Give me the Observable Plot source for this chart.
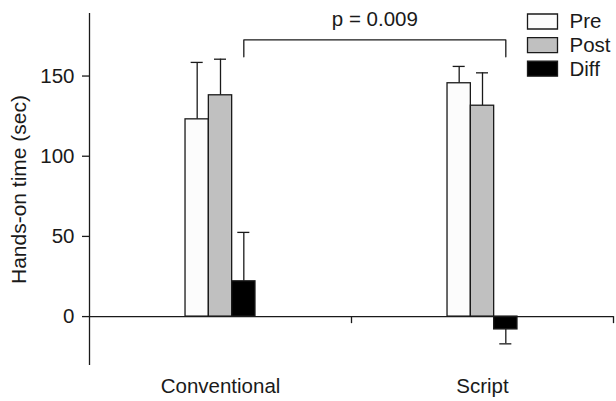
<!DOCTYPE html>
<html><head><meta charset="utf-8">
<script src="https://cdn.jsdelivr.net/npm/d3@7"></script>
<script src="https://cdn.jsdelivr.net/npm/@observablehq/plot@0.6"></script>
<style>body{margin:0;background:#fff}</style>
</head><body><div id="chart"></div>
<script>
// ---- data ----
const categories = ["Conventional", "Script"];
const seriesNames = ["Pre", "Post", "Diff"];
const preMeans = [123, 145.5];
const postMeans = [138, 131.5];
const diffMeans = [22, -8];
const preErrors = [35.5, 10.5];
const postErrors = [22.5, 20.5];
const diffErrors = [30.5, 9];
const yTicks = [0, 50, 100, 150];
const pLabel = "p = 0.009";
const yLabel = "Hands-on time (sec)";

// ---- styling / layout constants ----
const seriesColors = ["#fcfcfc", "#c0c0c0", "#000000"];
const ink = "#1a1a1a";
const lw = 1.3;
const barWidth = 0.089;   // width of one bar in category units
const capHalf = 0.023;    // half width of error caps in category units
const bracketTop = 172.5; // y of bracket, data units
const bracketLeg = 162;

const meansBySeries = [preMeans, postMeans, diffMeans];
const errsBySeries = [preErrors, postErrors, diffErrors];
const rows = [];
categories.forEach((c, i) => {
  seriesNames.forEach((s, j) => {
    const v = meansBySeries[j][i];
    const x1 = i + 0.5 + (j - 1.5) * barWidth;
    rows.push({
      category: c, series: s, value: v,
      errEnd: v + Math.sign(v) * errsBySeries[j][i],
      x1, x2: x1 + barWidth, xc: x1 + barWidth / 2
    });
  });
});
const diffRows = rows.filter(d => d.series === "Diff");
const bracket = [
  {x: diffRows[0].xc, y: bracketLeg},
  {x: diffRows[0].xc, y: bracketTop},
  {x: diffRows[1].xc, y: bracketTop},
  {x: diffRows[1].xc, y: bracketLeg}
];
const boxSymbol = {draw(ctx) { ctx.rect(-15, -7.5, 30, 15); }};

const chart = Plot.plot({
  width: 616, height: 401,
  marginLeft: 89, marginRight: 3, marginTop: 13, marginBottom: 36,
  style: {fontFamily: "'Liberation Sans', Arial, sans-serif", fontSize: "20.5px", color: ink, background: "#fff"},
  x: {domain: [0, 2], axis: null},
  y: {domain: [-30.5, 189], axis: null},
  color: {domain: seriesNames, range: seriesColors},
  marks: [
    Plot.ruleX([0], {stroke: ink, strokeWidth: lw}),
    Plot.axisY(yTicks, {anchor: "left", tickSize: 7, tickPadding: 8, strokeWidth: lw, label: null}),
    Plot.axisX(categories.map((c, i) => i + 0.5), {anchor: "bottom", tickSize: 0, tickPadding: 13, label: null, tickFormat: d => categories[Math.floor(d)]}),
    Plot.ruleX(categories.map((c, i) => i + 1), {y1: 0, y2: -4.4, stroke: ink, strokeWidth: lw}),
    // error bars
    Plot.ruleX(rows, {x: "xc", y1: "value", y2: "errEnd", stroke: ink, strokeWidth: lw}),
    Plot.ruleY(rows, {y: "errEnd", x1: d => d.xc - capHalf, x2: d => d.xc + capHalf, stroke: ink, strokeWidth: lw}),
    // bars
    Plot.rect(rows, {x1: "x1", x2: "x2", y1: 0, y2: "value", fill: "series", stroke: ink, strokeWidth: lw}),
    Plot.ruleY([0], {stroke: ink, strokeWidth: lw}),
    // significance bracket
    Plot.line(bracket, {x: "x", y: "y", stroke: ink, strokeWidth: lw}),
    Plot.text([pLabel], {x: (bracket[1].x + bracket[2].x) / 2, y: 185, text: d => d, lineAnchor: "middle"}),
    // y label
    Plot.text([yLabel], {frameAnchor: "left", dx: -70, rotate: -90, text: d => d, textAnchor: "middle", lineAnchor: "middle", fontSize: 21}),
    // legend
    seriesNames.map((s, i) => [
      Plot.dot([s], {frameAnchor: "top-right", dx: -71, dy: 8 + i * 23.6, symbol: boxSymbol, fill: d => d, stroke: ink, strokeWidth: lw}),
      Plot.text([s], {frameAnchor: "top-right", dx: -44, dy: 8.3 + i * 23.6, text: d => d, textAnchor: "start", lineAnchor: "middle"})
    ])
  ]
});
document.getElementById("chart").appendChild(chart);
</script>
</body></html>
